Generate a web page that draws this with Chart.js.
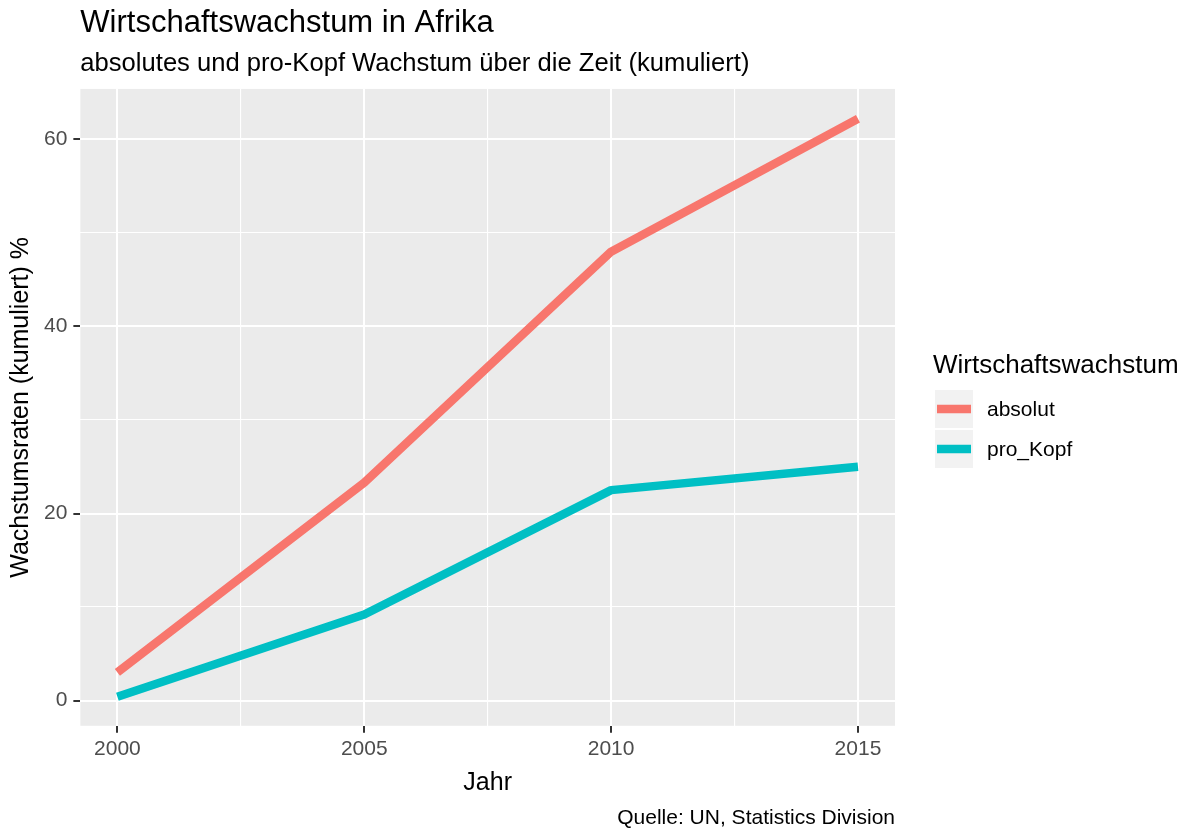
<!DOCTYPE html>
<html>
<head>
<meta charset="utf-8">
<title>Wirtschaftswachstum in Afrika</title>
<script src="https://cdn.jsdelivr.net/npm/chart.js@4.4.1/dist/chart.umd.min.js"></script>
<style>
  html, body { margin: 0; padding: 0; background: #fff; }
  #wrap { width: 1194px; height: 830px; position: relative; }
</style>
</head>
<body>
<div id="wrap"><canvas id="growthChart"></canvas></div>
<script>
// data
const years = [2000, 2005, 2010, 2015];
const absolut = [3.0, 23.3, 48.0, 62.2];
const proKopf = [0.4, 9.2, 22.5, 25.0];

const seriesNames = ['absolut', 'pro_Kopf'];
const xMajor = [2000, 2005, 2010, 2015];
const xMinor = [2002.5, 2007.5, 2012.5];
const yMajor = [0, 20, 40, 60];
const yMinor = [10, 30, 50];

const FONT = '"Liberation Sans", Arial, sans-serif';
const RED = '#F8766D';
const TEAL = '#00BFC4';

const toPoints = vals => years.map((y, i) => ({ x: y, y: vals[i] }));

// grey panel behind the grid, like ggplot
const panelBg = {
  id: 'panelBg',
  beforeDraw(chart) {
    const { ctx, chartArea: a } = chart;
    ctx.save();
    ctx.fillStyle = '#EBEBEB';
    ctx.fillRect(a.left, a.top, a.right - a.left, a.bottom - a.top);
    ctx.restore();
  }
};

// legend on the right and source caption
const ggLegend = {
  id: 'ggLegend',
  afterDraw(chart) {
    const { ctx, chartArea: a } = chart;
    ctx.save();
    ctx.fillStyle = '#000';
    ctx.font = '26px ' + FONT;
    ctx.textBaseline = 'alphabetic';
    ctx.textAlign = 'left';
    ctx.fillText('Wirtschaftswachstum', 933, 373);

    chart.data.datasets.forEach((ds, i) => {
      const top = 390 + i * 40;
      ctx.fillStyle = '#F2F2F2';
      ctx.fillRect(935, top, 38, 38);
      ctx.strokeStyle = ds.borderColor;
      ctx.lineWidth = 8.5;
      ctx.beginPath();
      ctx.moveTo(937, top + 19);
      ctx.lineTo(971, top + 19);
      ctx.stroke();
      ctx.fillStyle = '#000';
      ctx.font = '21px ' + FONT;
      ctx.textBaseline = 'middle';
      ctx.fillText(ds.label, 987, top + 20);
    });

    ctx.font = '21px ' + FONT;
    ctx.textAlign = 'right';
    ctx.textBaseline = 'alphabetic';
    ctx.fillText('Quelle: UN, Statistics Division', a.right, 824);
    ctx.restore();
  }
};

const isMajorX = v => xMajor.includes(v);
const isMajorY = v => yMajor.includes(v);

new Chart(document.getElementById('growthChart').getContext('2d'), {
  type: 'line',
  data: {
    datasets: [
      { label: seriesNames[0], data: toPoints(absolut), borderColor: RED, backgroundColor: RED,
        borderWidth: 8.5, pointRadius: 0, fill: false, borderJoinStyle: 'round', tension: 0 },
      { label: seriesNames[1], data: toPoints(proKopf), borderColor: TEAL, backgroundColor: TEAL,
        borderWidth: 8.5, pointRadius: 0, fill: false, borderJoinStyle: 'round', tension: 0 }
    ]
  },
  options: {
    responsive: true,
    maintainAspectRatio: false,
    animation: false,
    layout: { padding: { left: 0, right: 299, top: 0, bottom: 32 } },
    plugins: {
      legend: { display: false },
      tooltip: { enabled: false },
      title: {
        display: true, text: 'Wirtschaftswachstum in Afrika', align: 'start', fullSize: false,
        color: '#000', font: { family: FONT, size: 31, weight: 'normal', lineHeight: 1.2 },
        padding: { top: 5, bottom: 0 }
      },
      subtitle: {
        display: true, text: 'absolutes und pro-Kopf Wachstum über die Zeit (kumuliert)', align: 'start', fullSize: false,
        color: '#000', font: { family: FONT, size: 25.6, weight: 'normal', lineHeight: 1.2 },
        padding: { top: 6, bottom: 10 }
      }
    },
    scales: {
      x: {
        type: 'linear',
        min: 1999.25,
        max: 2015.75,
        afterBuildTicks: axis => { axis.ticks = xMajor.concat(xMinor).sort((a, b) => a - b).map(v => ({ value: v })); },
        ticks: {
          autoSkip: false, maxRotation: 0, padding: 4, color: '#4D4D4D',
          font: { family: FONT, size: 21 },
          callback: v => isMajorX(v) ? String(v) : ''
        },
        grid: {
          color: '#FFFFFF',
          lineWidth: c => isMajorX(c.tick.value) ? 2 : 1.1,
          tickColor: c => isMajorX(c.tick.value) ? '#333333' : 'rgba(0,0,0,0)',
          tickWidth: 2,
          tickLength: 7
        },
        border: { display: false },
        title: {
          display: true, text: 'Jahr', color: '#000',
          font: { family: FONT, size: 25, lineHeight: 1.2 },
          padding: { top: 2, bottom: 0 }
        }
      },
      y: {
        type: 'linear',
        min: -2.7,
        max: 65.4,
        afterBuildTicks: axis => { axis.ticks = yMajor.concat(yMinor).sort((a, b) => a - b).map(v => ({ value: v })); },
        ticks: {
          autoSkip: false, padding: 6, color: '#4D4D4D',
          font: { family: FONT, size: 21 },
          callback: v => isMajorY(v) ? String(v) : ''
        },
        grid: {
          color: '#FFFFFF',
          lineWidth: c => isMajorY(c.tick.value) ? 2 : 1.1,
          tickColor: c => isMajorY(c.tick.value) ? '#333333' : 'rgba(0,0,0,0)',
          tickWidth: 2,
          tickLength: 7
        },
        border: { display: false },
        title: {
          display: true, text: 'Wachstumsraten (kumuliert) %', color: '#000',
          font: { family: FONT, size: 25, lineHeight: 1 },
          padding: { top: 9, bottom: 4 }
        }
      }
    }
  },
  plugins: [panelBg, ggLegend]
});
</script>
</body>
</html>
